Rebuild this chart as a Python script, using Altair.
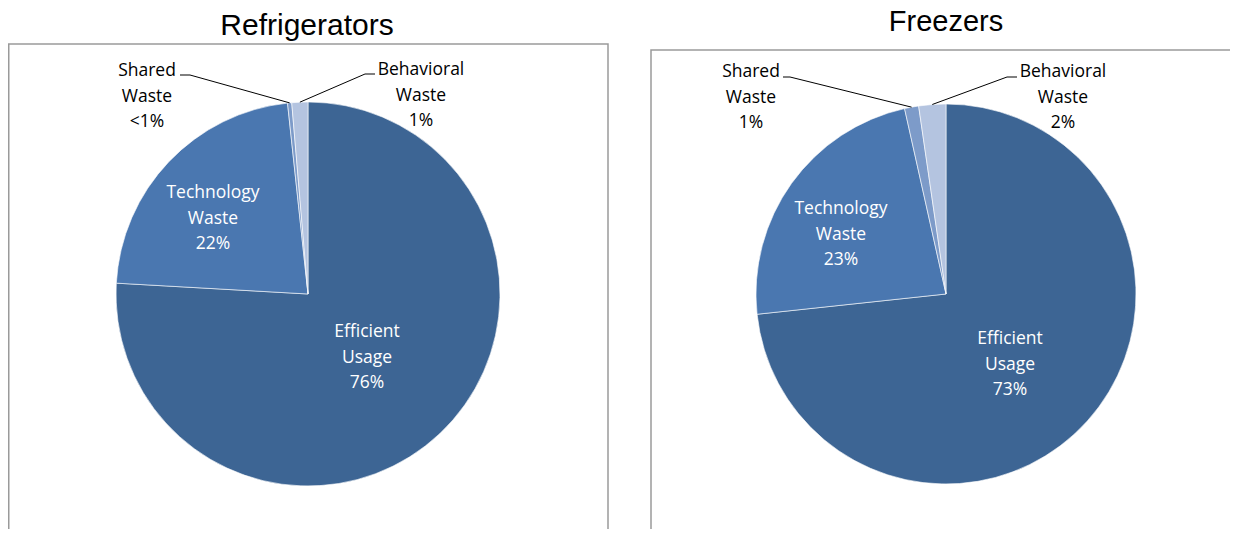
import altair as alt
import pandas as pd

categories = ["Efficient Usage", "Technology Waste", "Shared Waste", "Behavioral Waste"]
fridge_values = [75.9, 22.4, 0.35, 1.35]
fridge_pcts = ["76%", "22%", "<1%", "1%"]
freezer_values = [73.3, 23.2, 1.2, 2.3]
freezer_pcts = ["73%", "23%", "1%", "2%"]
colors = ["#3d6594", "#4a77b0", "#7d9bc9", "#b4c4e0"]

LABEL_FONT = "Open Sans"
TITLE_FONT = "Liberation Sans"


def panel(title, values, pcts, layout, cx, cy, R, width, height,
          box_left, box_top, box_right, title_x, title_y, title_size):
    df = pd.DataFrame({
        "category": categories,
        "value": values,
        "pct": pcts,
        "idx": list(range(len(categories))),
    })
    df["lx"] = [layout[c]["label"][0] for c in categories]
    df["ly"] = [layout[c]["label"][1] for c in categories]
    df["inside"] = [layout[c].get("inside", False) for c in categories]
    df["ax"] = [layout[c].get("anchor", (None, None))[0] for c in categories]
    df["ex"] = [layout[c].get("elbow", (None, None))[0] for c in categories]
    df["ey"] = [layout[c].get("elbow", (None, None))[1] for c in categories]

    base = alt.Chart(df)

    box = alt.Chart(pd.DataFrame({"k": [0]})).mark_rect(
        filled=False, stroke="#9a9a9a", strokeWidth=1.5, clip=True
    ).encode(
        x=alt.value(box_left), x2=alt.value(box_right),
        y=alt.value(box_top), y2=alt.value(height + 20),
    )

    ttl = alt.Chart(pd.DataFrame({"t": [title]})).mark_text(
        font=TITLE_FONT, fontSize=title_size, color="black",
        align="center", baseline="alphabetic"
    ).encode(text="t:N", x=alt.value(title_x), y=alt.value(title_y))

    arcs = base.mark_arc(outerRadius=R, stroke="white", strokeWidth=0.6).encode(
        theta=alt.Theta("value:Q", stack=True),
        color=alt.Color("category:N",
                        scale=alt.Scale(domain=categories, range=colors),
                        legend=None),
        order=alt.Order("idx:Q"),
        x=alt.value(cx), y=alt.value(cy),
    )

    geo = base.transform_window(
        cum="sum(value)", sort=[alt.SortField("idx")], frame=[None, 0]
    ).transform_joinaggregate(total="sum(value)").transform_calculate(
        mid="(datum.cum - datum.value/2) / datum.total * 2 * PI"
    ).transform_calculate(
        px=f"{cx} + {R} * sin(datum.mid)",
        py=f"{cy} - {R} * cos(datum.mid)",
    ).transform_filter("!datum.inside")

    diag = geo.mark_rule(color="black", strokeWidth=1).encode(
        x=alt.X("px:Q", scale=None), y=alt.Y("py:Q", scale=None),
        x2="ex:Q", y2="ey:Q",
    )
    horiz = geo.mark_rule(color="black", strokeWidth=1).encode(
        x=alt.X("ax:Q", scale=None), x2="ex:Q",
        y=alt.Y("ey:Q", scale=None),
    )

    labels = base.transform_calculate(
        lines="split(datum.category + ' ' + datum.pct, ' ')"
    ).mark_text(
        font=LABEL_FONT, fontSize=17.5, lineHeight=25.5,
        align="center", baseline="middle"
    ).encode(
        x=alt.X("lx:Q", scale=None), y=alt.Y("ly:Q", scale=None),
        text="lines:N",
        color=alt.condition("datum.inside", alt.value("white"), alt.value("black")),
    )

    return alt.layer(box, ttl, arcs, diag, horiz, labels).properties(
        width=width, height=height
    )


# label positions give the centre of the first text line (panel pixels)
fridge_layout = {
    "Efficient Usage": {"label": (359, 324), "inside": True},
    "Technology Waste": {"label": (205, 185), "inside": True},
    "Shared Waste": {"label": (139, 63), "anchor": (172, 67), "elbow": (182, 67)},
    "Behavioral Waste": {"label": (413, 62), "anchor": (367, 66), "elbow": (357, 66)},
}
freezer_layout = {
    "Efficient Usage": {"label": (360, 331), "inside": True},
    "Technology Waste": {"label": (191, 201), "inside": True},
    "Shared Waste": {"label": (101, 64), "anchor": (133, 69), "elbow": (140, 69)},
    "Behavioral Waste": {"label": (413, 64), "anchor": (367, 69), "elbow": (357, 69)},
}

H = 521
left = panel("Refrigerators", fridge_values, fridge_pcts, fridge_layout,
             cx=300, cy=286, R=192, width=601, height=H,
             box_left=0.75, box_top=36, box_right=600,
             title_x=299, title_y=27, title_size=30)
right = panel("Freezers", freezer_values, freezer_pcts, freezer_layout,
              cx=296, cy=286, R=190, width=580, height=H,
              box_left=1, box_top=42, box_right=600,
              title_x=296, title_y=23, title_size=29)

chart = alt.hconcat(left, right, spacing=41).properties(padding=0).configure_view(
    stroke=None
)

chart.save("out.html", embed_options={"renderer": "svg", "actions": False})
